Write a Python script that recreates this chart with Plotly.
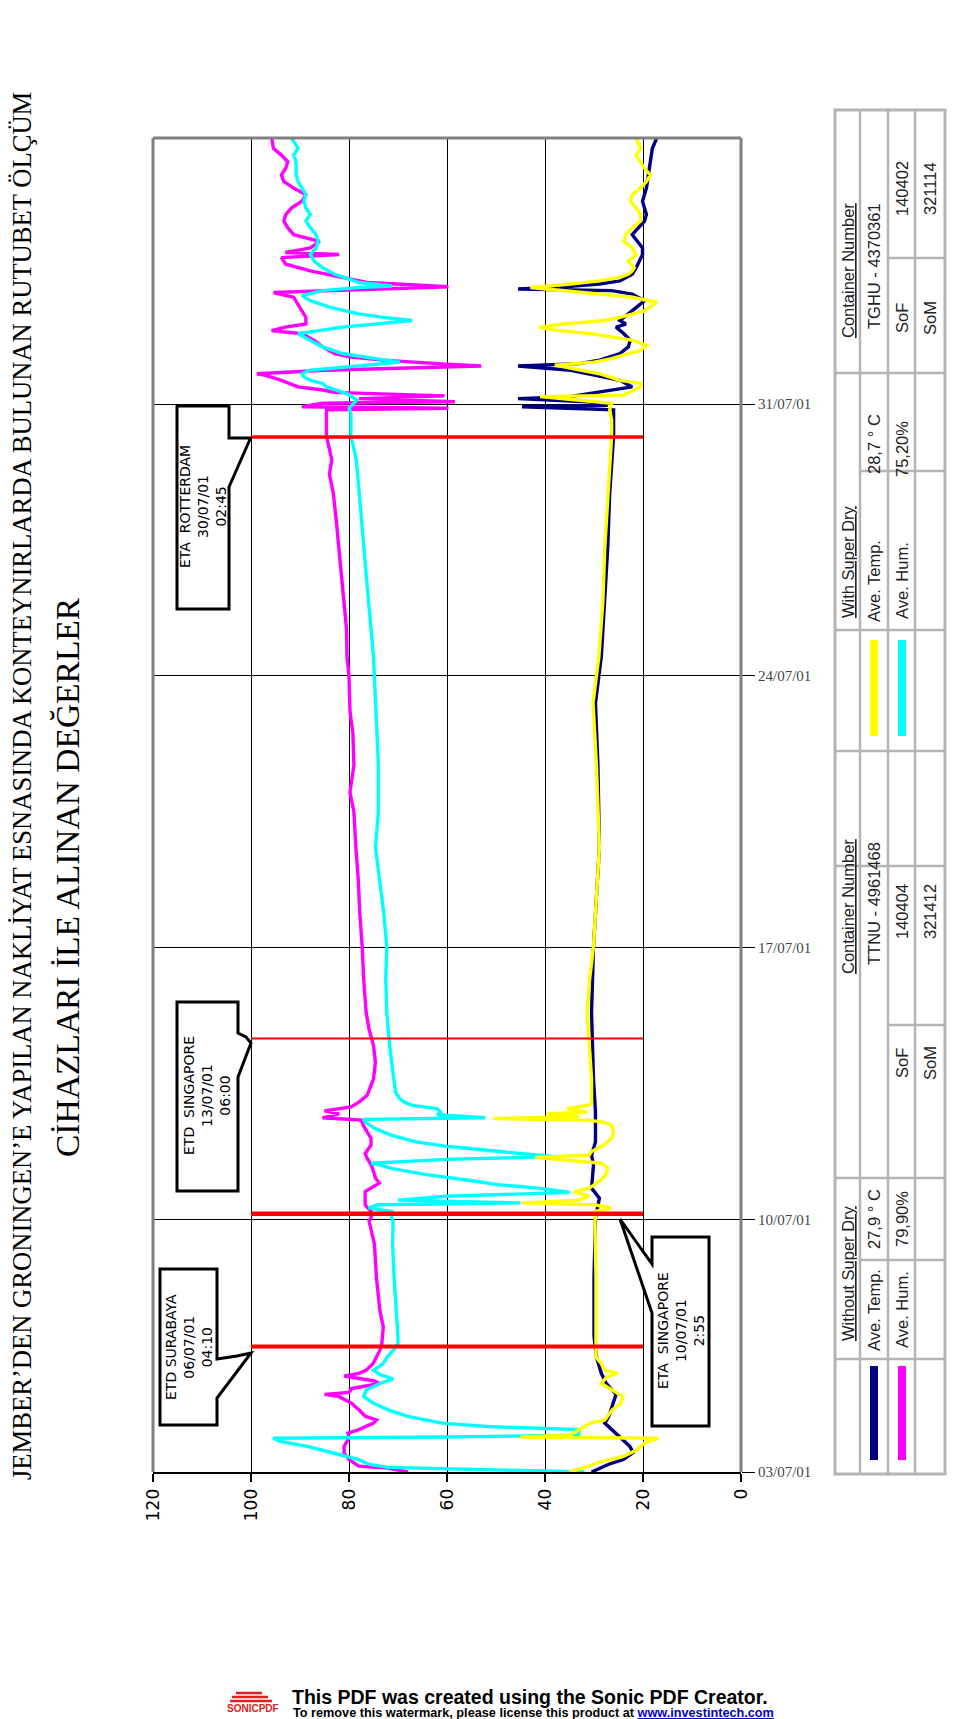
import pandas as pd
import plotly.graph_objects as go

# ---------------- data (day offset from 03/07/2001, value) ----------------
BASE = pd.Timestamp("2001-07-03")

temp_without = [
    (0.50, 30.5), (0.70, 27.0), (0.82, 24.0), (1.00, 22.0), (1.16, 22.7), (1.37, 24.5), (1.59, 26.3),
    (1.76, 27.8), (1.93, 27.0), (2.27, 26.0), (2.50, 25.5), (2.78, 27.5), (3.04, 28.5), (3.46, 29.5),
    (4.00, 30.0), (5.50, 30.0), (7.04, 29.7), (7.55, 28.9), (7.81, 30.5), (8.41, 30.1), (8.66, 30.5),
    (9.00, 29.7), (9.77, 29.7), (10.62, 30.1), (12.33, 30.5), (14.03, 30.1), (15.74, 29.3), (16.59, 28.9),
    (18.70, 29.2), (20.30, 29.7), (21.50, 28.5), (22.90, 27.8), (24.30, 27.2), (25.70, 26.8), (27.17, 26.0),
    (27.59, 26.0), (27.85, 26.0), (27.93, 44.7), (27.97, 27.2), (28.06, 31.4), (28.14, 45.5), (28.19, 35.0),
    (28.36, 26.4), (28.44, 22.2), (28.61, 24.7), (28.78, 31.4), (28.87, 34.7), (28.98, 45.5), (29.04, 33.0),
    (29.13, 28.9), (29.30, 24.7), (29.47, 23.0), (29.64, 22.6), (29.81, 23.9), (29.98, 25.5), (30.06, 23.5),
    (30.15, 24.7), (30.32, 23.0), (30.49, 21.4), (30.66, 19.7), (30.83, 22.2), (30.92, 26.4), (30.96, 45.5),
    (31.00, 38.0), (31.09, 28.9), (31.17, 24.7), (31.34, 22.2), (31.51, 21.4), (31.85, 20.1), (32.02, 20.1),
    (32.36, 22.2), (32.71, 19.7), (32.88, 19.3), (33.22, 20.1), (33.56, 19.3), (33.90, 18.9), (34.24, 18.5),
    (34.58, 18.1), (34.85, 17.2),
]

hum_without = [
    (0.50, 68.0), (0.60, 72.0), (0.65, 78.0), (0.82, 80.0), (0.99, 81.0), (1.16, 81.0), (1.37, 80.0),
    (1.50, 80.2), (1.59, 78.0), (1.76, 75.0), (1.84, 74.4), (1.93, 76.6), (2.10, 78.0), (2.27, 79.5),
    (2.44, 82.0), (2.50, 85.0), (2.55, 80.0), (2.65, 79.5), (2.78, 73.7), (2.85, 75.0), (2.97, 81.0),
    (3.04, 78.0), (3.12, 76.5), (3.29, 75.1), (3.46, 74.4), (3.63, 73.7), (3.80, 73.3), (4.23, 73.0),
    (4.66, 73.7), (5.08, 74.0), (5.51, 74.4), (6.36, 74.8), (6.96, 75.9), (7.04, 75.5), (7.21, 75.5),
    (7.38, 76.7), (7.72, 76.7), (7.94, 73.8), (8.07, 74.6), (8.24, 75.0), (8.41, 75.5), (8.58, 76.3),
    (8.70, 76.7), (8.92, 75.5), (9.09, 75.5), (9.26, 76.3), (9.43, 77.1), (9.56, 77.5), (9.62, 85.4),
    (9.72, 82.0), (9.80, 85.0), (9.90, 79.6), (10.03, 77.9), (10.20, 76.3), (10.62, 75.0), (11.05, 74.6),
    (11.48, 75.0), (11.90, 75.9), (12.33, 76.5), (13.18, 77.0), (14.03, 77.3), (14.89, 77.8), (15.74, 78.1),
    (16.59, 78.6), (17.50, 79.0), (18.00, 79.8), (18.70, 79.0), (19.50, 79.2), (20.10, 79.8), (21.00, 80.0),
    (21.50, 80.4), (22.20, 80.5), (22.90, 81.0), (23.60, 81.5), (24.30, 82.0), (25.00, 82.6), (25.70, 83.2),
    (26.20, 84.0), (26.56, 83.5), (27.17, 84.6), (27.76, 84.6), (27.85, 84.6), (27.89, 59.7), (27.93, 89.6),
    (28.02, 85.4), (28.06, 58.4), (28.14, 78.0), (28.21, 60.5), (28.30, 83.0), (28.36, 85.4), (28.44, 90.4),
    (28.61, 93.8), (28.74, 97.0), (28.78, 98.8), (28.87, 85.0), (28.98, 53.0), (29.04, 62.0), (29.13, 73.0),
    (29.21, 79.6), (29.30, 82.9), (29.47, 85.4), (29.64, 87.1), (29.81, 89.6), (29.89, 95.8), (29.98, 93.0),
    (30.06, 88.8), (30.23, 88.8), (30.40, 89.6), (30.57, 90.4), (30.75, 91.3), (30.87, 95.4), (30.96, 76.0),
    (31.02, 59.7), (31.13, 76.3), (31.26, 81.3), (31.43, 87.9), (31.60, 92.9), (31.77, 93.8), (31.85, 82.0),
    (31.90, 93.0), (32.02, 87.9), (32.19, 86.0), (32.36, 91.3), (32.54, 92.5), (32.71, 93.3), (32.88, 92.9),
    (33.05, 91.7), (33.22, 89.6), (33.39, 88.8), (33.56, 91.3), (33.73, 93.3), (33.90, 93.8), (34.07, 92.9),
    (34.24, 92.5), (34.41, 93.8), (34.58, 95.4), (34.85, 95.8),
]

temp_with = [
    (0.50, 35.0), (0.65, 31.0), (0.75, 29.0), (0.90, 24.0), (1.07, 21.2), (1.25, 19.7), (1.37, 16.8),
    (1.40, 45.0), (1.45, 35.0), (1.59, 33.0), (1.76, 30.7), (1.84, 27.8), (2.10, 26.3), (2.27, 24.5),
    (2.44, 24.1), (2.61, 26.3), (2.78, 28.5), (2.95, 27.4), (3.04, 25.2), (3.12, 27.8), (3.29, 28.5),
    (3.46, 29.6), (3.80, 29.6), (5.51, 29.6), (6.96, 29.8), (7.04, 29.7), (7.21, 29.7), (7.30, 26.4),
    (7.38, 30.0), (7.43, 44.7), (7.50, 33.0), (7.60, 31.0), (7.72, 34.0), (7.81, 31.0), (7.98, 28.9),
    (8.15, 27.6), (8.32, 27.2), (8.45, 28.5), (8.60, 42.0), (8.66, 31.0), (8.75, 30.5), (8.92, 28.0),
    (9.09, 26.4), (9.26, 26.0), (9.43, 26.4), (9.51, 28.0), (9.56, 31.4), (9.60, 50.5), (9.65, 33.0),
    (9.72, 39.7), (9.77, 31.4), (9.86, 35.5), (9.94, 31.4), (9.98, 30.5), (10.62, 30.5), (11.48, 30.9),
    (12.33, 31.4), (13.18, 30.9), (14.03, 30.1), (14.89, 29.7), (15.74, 29.3), (16.59, 28.9), (18.70, 29.5),
    (20.30, 30.2), (21.50, 29.0), (22.90, 28.2), (24.30, 27.8), (25.70, 27.2), (27.17, 26.4), (27.59, 26.4),
    (27.85, 26.8), (28.02, 26.4), (28.10, 33.0), (28.19, 41.0), (28.23, 24.0), (28.36, 22.0), (28.44, 20.5),
    (28.53, 20.5), (28.61, 24.7), (28.78, 28.9), (28.95, 35.5), (29.00, 38.0), (29.08, 30.0), (29.17, 26.4),
    (29.30, 23.0), (29.38, 20.5), (29.51, 19.3), (29.64, 22.0), (29.81, 30.5), (29.89, 37.2), (29.98, 41.3),
    (30.06, 36.0), (30.15, 28.0), (30.23, 24.7), (30.40, 19.7), (30.62, 17.2), (30.75, 22.2), (30.83, 28.9),
    (30.92, 37.2), (31.00, 43.0), (31.09, 34.7), (31.17, 28.9), (31.26, 24.7), (31.34, 23.0), (31.43, 22.2),
    (31.51, 21.8), (31.68, 23.0), (31.85, 21.4), (32.02, 22.2), (32.19, 23.9), (32.36, 23.5), (32.54, 22.2),
    (32.71, 20.5), (32.88, 20.5), (33.05, 21.4), (33.22, 22.6), (33.39, 22.2), (33.56, 20.5), (33.73, 19.3),
    (33.90, 18.5), (34.07, 19.7), (34.24, 20.5), (34.41, 21.4), (34.58, 20.5), (34.85, 21.4),
]

hum_with = [
    (0.50, 32.0), (0.56, 52.0), (0.62, 72.0), (0.70, 76.0), (0.82, 78.0), (0.95, 82.0), (1.07, 86.0),
    (1.16, 88.5), (1.29, 94.0), (1.37, 95.5), (1.40, 60.0), (1.45, 33.2), (1.59, 33.0), (1.67, 51.8),
    (1.76, 61.0), (1.93, 68.0), (2.10, 72.0), (2.27, 75.0), (2.44, 77.0), (2.61, 76.5), (2.78, 73.7),
    (2.90, 71.0), (3.00, 73.5), (3.12, 75.0), (3.29, 73.0), (3.46, 72.2), (3.63, 71.0), (3.80, 70.0),
    (3.97, 70.0), (4.66, 70.4), (5.51, 70.8), (6.36, 71.1), (6.96, 71.0), (7.04, 71.3), (7.21, 71.3),
    (7.30, 76.0), (7.38, 74.0), (7.43, 45.0), (7.50, 70.0), (7.60, 60.0), (7.70, 35.0), (7.81, 41.3),
    (7.90, 49.7), (7.98, 53.8), (8.07, 59.7), (8.15, 63.8), (8.24, 68.0), (8.32, 71.3), (8.41, 73.8),
    (8.45, 75.5), (8.55, 60.0), (8.62, 38.0), (8.70, 45.0), (8.79, 53.0), (8.88, 59.7), (9.00, 66.3),
    (9.17, 71.3), (9.34, 74.6), (9.51, 76.7), (9.58, 77.1), (9.62, 52.2), (9.70, 62.0), (9.77, 61.3),
    (9.86, 62.0), (9.94, 67.1), (10.03, 68.8), (10.11, 69.6), (10.28, 70.5), (10.62, 70.9), (11.05, 71.3),
    (11.48, 71.7), (12.33, 72.3), (13.18, 72.5), (14.03, 72.3), (14.89, 72.9), (15.74, 73.8), (16.59, 74.6),
    (17.50, 74.0), (18.70, 74.0), (20.10, 74.5), (21.50, 75.0), (22.90, 76.0), (24.30, 77.0), (25.70, 78.0),
    (26.56, 78.5), (27.17, 79.6), (27.59, 79.6), (27.76, 79.6), (27.89, 80.0), (28.10, 78.4), (28.27, 80.4),
    (28.44, 84.6), (28.53, 85.4), (28.61, 87.9), (28.70, 89.2), (28.78, 89.6), (28.87, 87.9), (28.95, 81.3),
    (29.04, 73.0), (29.08, 69.6), (29.17, 74.6), (29.30, 81.3), (29.47, 85.4), (29.64, 87.9), (29.81, 90.4),
    (29.98, 81.3), (30.06, 74.6), (30.15, 67.1), (30.23, 73.0), (30.32, 78.0), (30.49, 83.8), (30.66, 87.9),
    (30.79, 89.6), (30.92, 85.4), (31.00, 78.0), (31.04, 71.3), (31.13, 78.0), (31.26, 81.3), (31.34, 82.9),
    (31.51, 85.4), (31.68, 87.1), (31.85, 87.9), (32.02, 86.7), (32.19, 86.3), (32.36, 86.7), (32.54, 87.9),
    (32.71, 88.8), (32.88, 87.9), (33.05, 88.8), (33.22, 89.2), (33.39, 88.8), (33.56, 89.6), (33.73, 90.4),
    (33.90, 90.8), (34.24, 90.8), (34.41, 91.3), (34.58, 90.4), (34.85, 91.7),
]

value_ticks = [0, 20, 40, 60, 80, 100, 120]
date_tick_days = [0.5, 7, 14, 21, 28]
date_tick_labels = ["03/07/01", "10/07/01", "17/07/01", "24/07/01", "31/07/01"]
axis_days = [0.5, 34.85]

event_days = [3.73, 7.15, 11.66, 27.15]
event_labels = ["ETD SURABAYA<br>06/07/01<br>04:10", "ETA  SINGAPORE<br>10/07/01<br>2:55",
                "ETD  SINGAPORE<br>13/07/01<br>06:00", "ETA  ROTTERDAM<br>30/07/01<br>02:45"]

title_line1 = "JEMBER’DEN GRONINGEN’E YAPILAN NAKLİYAT ESNASINDA KONTEYNIRLARDA BULUNAN RUTUBET ÖLÇÜM"
title_line2 = "CİHAZLARI İLE ALINAN DEĞERLER"

# ---------------- helpers (page pixels -> paper; page has an 8px body margin) ----------------
W, H = 960, 1719
OFF = 8


def X(px):
    return (px - OFF) / W


def Y(py):
    return 1 - (py - OFF) / H


def to_dt(d):
    return (BASE + pd.to_timedelta(d, unit="D")).strftime("%Y-%m-%d %H:%M:%S")


def poly(points):
    return "M " + " L ".join(f"{X(a):.5f},{Y(b):.5f}" for a, b in points) + " Z"


fig = go.Figure()

series = [
    (hum_without, "#FF00FF"),
    (hum_with, "#00FFFF"),
    (temp_without, "#000080"),
    (temp_with, "#FFFF00"),
]
for data, col in series:
    fig.add_trace(go.Scatter(
        x=[v for _, v in data], y=[to_dt(d) for d, _ in data],
        mode="lines", line=dict(color=col, width=3.4), hoverinfo="skip"))

shapes = []
annotations = []

# frame (grey left/top/right)
PL, PR, PT, PB = 153, 741, 138, 1472
for (x0, y0, x1, y1) in [(PL, PT, PL, PB), (PL, PT, PR, PT), (PR, PT, PR, PB)]:
    shapes.append(dict(type="line", xref="paper", yref="paper", x0=X(x0), y0=Y(y0), x1=X(x1), y1=Y(y1),
                       line=dict(color="#808080", width=3), layer="above"))

# red event lines
red_widths = [4, 4.5, 2, 3.5]
for d, w in zip(event_days, red_widths):
    shapes.append(dict(type="line", xref="x", yref="y", x0=100, x1=20, y0=to_dt(d), y1=to_dt(d),
                       line=dict(color="#FF0000", width=w), layer="above"))

# callout boxes
callouts = [
    ([(160, 1269), (217, 1269), (217, 1359), (237, 1356), (251, 1353), (217, 1398), (217, 1425), (160, 1425)],
     (189, 1347)),
    ([(652, 1237), (709, 1237), (709, 1426), (652, 1426), (652, 1313), (620, 1219), (652, 1264)],
     (681, 1331)),
    ([(177, 1002), (238, 1002), (238, 1033), (246, 1037), (251, 1043), (238, 1077), (238, 1191), (177, 1191)],
     (207, 1096)),
    ([(177, 406), (229, 406), (229, 438), (250, 438), (251, 437), (229, 487), (229, 609), (177, 609)],
     (203, 507)),
]
for (pts, (cx, cy)), label in zip(callouts, event_labels):
    shapes.append(dict(type="path", xref="paper", yref="paper", path=poly(pts),
                       fillcolor="white", line=dict(color="black", width=3), layer="above"))
    annotations.append(dict(xref="paper", yref="paper", x=X(cx), y=Y(cy), text=label, textangle=-90,
                            showarrow=False, xanchor="center", yanchor="middle",
                            font=dict(family="DejaVu Sans", size=14, color="black")))

# title
annotations.append(dict(xref="paper", yref="paper", x=X(22), y=Y(786), text=title_line1, textangle=-90,
                        showarrow=False, xanchor="center", yanchor="middle",
                        font=dict(family="Liberation Serif", size=26.6, color="black")))
annotations.append(dict(xref="paper", yref="paper", x=X(68), y=Y(877), text=title_line2, textangle=-90,
                        showarrow=False, xanchor="center", yanchor="middle",
                        font=dict(family="Liberation Serif", size=33.5, color="black")))

# ---------------- table (rotated) ----------------
TL, TR, TT, TB = 835, 945, 110, 1474
strip_x = [835, 860, 888, 915, 945]
tcol = "#b4b4b4"
shapes.append(dict(type="rect", xref="paper", yref="paper", x0=X(TL), x1=X(TR), y0=Y(TT), y1=Y(TB),
                   line=dict(color=tcol, width=3), fillcolor="rgba(0,0,0,0)"))
for sx in strip_x[1:-1]:
    shapes.append(dict(type="line", xref="paper", yref="paper", x0=X(sx), x1=X(sx), y0=Y(TT), y1=Y(TB),
                       line=dict(color=tcol, width=2.5)))
for hy in [373, 630, 751, 866, 1178, 1359]:
    shapes.append(dict(type="line", xref="paper", yref="paper", x0=X(TL), x1=X(TR), y0=Y(hy), y1=Y(hy),
                       line=dict(color=tcol, width=2.5)))
for hy in [471, 1260]:
    shapes.append(dict(type="line", xref="paper", yref="paper", x0=X(860), x1=X(TR), y0=Y(hy), y1=Y(hy),
                       line=dict(color=tcol, width=2.5)))
for hy in [258, 1025]:
    shapes.append(dict(type="line", xref="paper", yref="paper", x0=X(888), x1=X(TR), y0=Y(hy), y1=Y(hy),
                       line=dict(color=tcol, width=2.5)))

# swatches
for (x0, x1, y0, y1, col) in [(870, 878, 640, 736, "#FFFF00"), (898, 906, 640, 736, "#00FFFF"),
                              (870, 878, 1366, 1460, "#000080"), (898, 906, 1366, 1460, "#FF00FF")]:
    shapes.append(dict(type="rect", xref="paper", yref="paper", x0=X(x0), x1=X(x1), y0=Y(y0), y1=Y(y1),
                       fillcolor=col, line=dict(width=0)))

table_texts = [
    ("<u>With Super Dry</u>", 848, 562), ("<u>Container Number</u>", 848, 271),
    ("Ave. Temp.", 874, 581), ("28,7 ° C", 874, 444), ("TGHU - 4370361", 874, 266),
    ("Ave. Hum.", 902, 581), ("75,20%", 902, 449), ("SoF", 902, 318), ("140402", 902, 189),
    ("SoM", 930, 318), ("321114", 930, 189),
    ("<u>Without Super Dry</u>", 848, 1273), ("<u>Container Number</u>", 848, 907),
    ("Ave. Temp.", 874, 1310), ("27,9 ° C", 874, 1219), ("TTNU - 4961468", 874, 904),
    ("Ave. Hum.", 902, 1310), ("79,90%", 902, 1219), ("SoF", 902, 1063), ("140404", 902, 912),
    ("SoM", 930, 1063), ("321412", 930, 912),
]
for txt, cx, cy in table_texts:
    annotations.append(dict(xref="paper", yref="paper", x=X(cx), y=Y(cy), text=txt, textangle=-90,
                            showarrow=False, xanchor="center", yanchor="middle",
                            font=dict(family="Liberation Sans", size=16.5, color="#222222")))

# watermark
annotations.append(dict(xref="paper", yref="paper", x=X(290), y=Y(1697), xanchor="left", yanchor="middle",
                        showarrow=False, text="<b>This PDF was created using the Sonic PDF Creator.</b>",
                        font=dict(family="Liberation Sans", size=19.5, color="black")))
annotations.append(dict(xref="paper", yref="paper", x=X(291), y=Y(1713), xanchor="left", yanchor="middle",
                        showarrow=False,
                        text="<b>To remove this watermark, please license this product at "
                             "<span style='color:#0000CC'><u>www.investintech.com</u></span></b>",
                        font=dict(family="Liberation Sans", size=12.7, color="black")))
for i, (lx0, lx1) in enumerate([(236, 262), (232, 268), (230, 272)]):
    yy = 1693 + i * 4
    shapes.append(dict(type="line", xref="paper", yref="paper", x0=X(lx0), x1=X(lx1), y0=Y(yy), y1=Y(yy),
                       line=dict(color="#E02020", width=2.5)))
annotations.append(dict(xref="paper", yref="paper", x=X(253), y=Y(1708), xanchor="center", yanchor="middle",
                        showarrow=False, text="<b>SONICPDF</b>",
                        font=dict(family="Liberation Sans", size=10, color="#E02020")))

fig.update_layout(
    width=W, height=H, margin=dict(l=0, r=0, t=0, b=0),
    paper_bgcolor="white", plot_bgcolor="white", showlegend=False,
    shapes=shapes, annotations=annotations,
    xaxis=dict(domain=[X(PL), X(PR)], range=[120, 0], tickmode="array", tickvals=value_ticks,
               ticktext=[str(v) for v in value_ticks], tickangle=-90, ticks="outside", ticklen=8,
               tickcolor="black", tickwidth=1.5, showgrid=True, gridcolor="black", gridwidth=1,
               zeroline=False, showline=True, linecolor="black", linewidth=2, automargin=False,
               tickfont=dict(family="DejaVu Sans", size=17, color="black")),
    yaxis=dict(domain=[Y(PB), Y(PT)], type="date", range=[to_dt(axis_days[0]), to_dt(axis_days[1])],
               side="right", tickmode="array", tickvals=[to_dt(d) for d in date_tick_days],
               ticktext=date_tick_labels, ticks="outside", ticklen=13, tickcolor="black",
               showgrid=True, gridcolor="black", gridwidth=1, zeroline=False, showline=False,
               automargin=False,
               tickfont=dict(family="Liberation Serif", size=15, color="#444444")),
)

fig.write_html("out.html")
